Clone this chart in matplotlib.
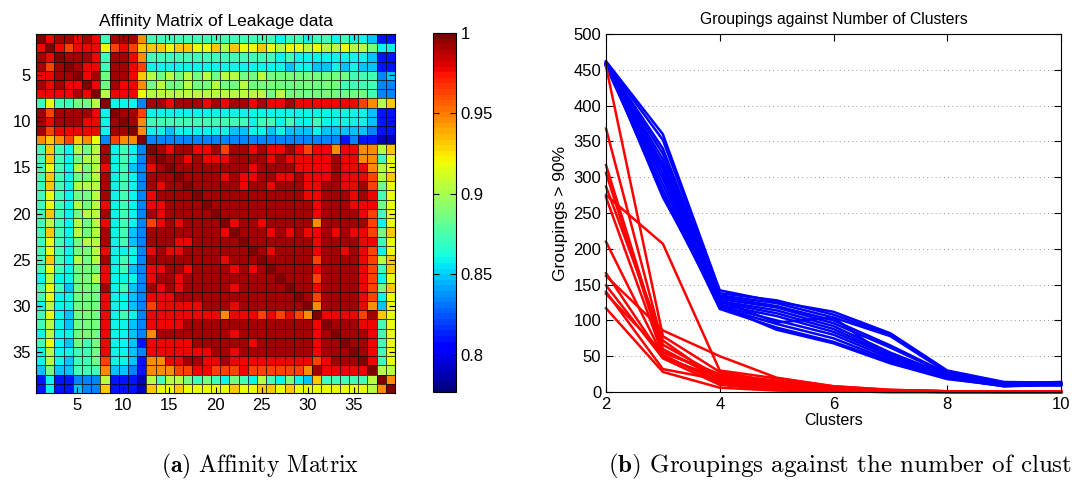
import numpy as np
import matplotlib.pyplot as plt

plt.rcParams['font.family'] = ['Liberation Sans', 'DejaVu Sans']
plt.rcParams['mathtext.fontset'] = 'cm'

# colour level codes used in the affinity table -> affinity value
level_codes = "dbalc0123456789"
level_values = [0.788, 0.81, 0.833, 0.847, 0.859, 0.873, 0.888, 0.904,
                0.919, 0.932, 0.946, 0.962, 0.977, 0.992, 1.0]

# upper triangle of the affinity matrix, row i starts at column i
affinity_rows = [
    "97887870888500000000" "000000c00c00c0cclbb",
    "9767773676444344334" "24334323323223221cc",
    "988870887500000000" "000000c0cccccccclbb",
    "987708876cccccccc" "ccccccclccllclcllbb",
    "9781887421212121" "22112111111111000al",
    "971877512112112" "11211111111110000aa",
    "92777322222222" "22222121111111110aa",
    "9ccca88788878" "7887877877777776524",
    "9886cccccccc" "cccccccccccccccclbb",
    "98500000000" "000c00c0cc0ccccclbb",
    "95cclccccc" "cllcclclllclllllabb",
    "9aaaaaaaa" "aaaaaaaaaaaaababbdd",
    "98788778" "6887877876775775524",
    "9887877" "7888878777778775503",
    "988888" "8887888877778777523",
    "98888" "7877887787778777624",
    "9888" "8878878887788778613",
    "988" "8888888887788878703",
    "98" "8888888888788877713",
    "9" "8888888888788887603",
    "97887888885888886c3",
    "988878787787877614",
    "98888888788887703",
    "98788887887876c3",
    "988888688887624",
    "98888788887604",
    "98886888876c3",
    "988788887614",
    "986888876c3",
    "95888875l3",
    "977776843",
    "98887703",
    "9888703",
    "988703",
    "98703",
    "9703",
    "922",
    "95",
    "9",
]

clusters = [2, 3, 4, 5, 6, 7, 8, 9, 10]
blue_runs = [
    [462, 360, 142, 126, 112, 82, 30, 14, 13],
    [460, 352, 138, 128, 108, 80, 28, 13, 12],
    [459, 340, 135, 124, 104, 78, 27, 12, 14],
    [458, 333, 133, 120, 100, 65, 26, 12, 11],
    [457, 325, 130, 118, 96, 62, 25, 11, 10],
    [456, 318, 127, 114, 92, 55, 24, 10, 12],
    [455, 312, 125, 110, 88, 52, 23, 10, 9],
    [458, 305, 122, 106, 84, 50, 22, 9, 11],
    [457, 298, 120, 100, 80, 47, 21, 9, 10],
    [456, 290, 118, 95, 75, 44, 20, 8, 12],
    [455, 282, 116, 90, 70, 42, 19, 8, 10],
    [459, 275, 120, 87, 68, 40, 18, 9, 11],
    [461, 272, 128, 97, 104, 46, 20, 10, 13],
]
red_runs = [
    [455, 78, 28, 14, 6, 2, 1, 0, 0],
    [368, 66, 22, 11, 4, 2, 1, 0, 0],
    [317, 60, 18, 9, 3, 1, 0, 0, 0],
    [306, 56, 24, 16, 7, 2, 1, 0, 0],
    [287, 72, 16, 6, 2, 1, 0, 0, 0],
    [275, 207, 30, 19, 8, 3, 1, 0, 0],
    [272, 52, 13, 4, 1, 0, 0, 0, 0],
    [210, 50, 15, 10, 4, 1, 0, 0, 0],
    [166, 48, 20, 12, 5, 2, 0, 0, 0],
    [162, 86, 50, 20, 8, 3, 1, 0, 0],
    [149, 47, 10, 3, 1, 0, 0, 0, 0],
    [140, 32, 17, 7, 2, 1, 0, 0, 0],
    [137, 55, 25, 14, 5, 2, 1, 0, 0],
    [117, 28, 6, 2, 1, 0, 0, 0, 0],
]

# build the symmetric matrix
n = len(affinity_rows)
A = np.zeros((n, n))
for i, row in enumerate(affinity_rows):
    for k, ch in enumerate(row):
        v = level_values[level_codes.index(ch)]
        A[i, i + k] = v
        A[i + k, i] = v

W, H = 1074, 491
fig = plt.figure(figsize=(W / 100, H / 100), dpi=100)

# affinity matrix
ax1 = fig.add_axes([36 / W, 1 - 393 / H, 359 / W, 359 / H])
edges = np.arange(0.5, n + 1)
mesh = ax1.pcolormesh(edges, edges, A, cmap=plt.get_cmap('jet', 64),
                      vmin=0.777, vmax=1.0,
                      edgecolors=(0, 0, 0, 0.7), linewidth=0.7)
ax1.set_xlim(0.5, n + 0.5)
ax1.set_ylim(n + 0.5, 0.5)
ax1.set_xticks(range(5, 40, 5))
ax1.set_yticks(range(5, 40, 5))
ax1.tick_params(labelsize=12, direction='in', length=4, top=True, right=True)
ax1.set_title('Affinity Matrix of Leakage data', fontsize=12.5, pad=6)

cax = fig.add_axes([433 / W, 1 - 392 / H, 23 / W, 359 / H])
cb = fig.colorbar(mesh, cax=cax, ticks=[0.8, 0.85, 0.9, 0.95, 1.0])
cb.ax.set_yticklabels(['0.8', '0.85', '0.9', '0.95', '1'])
cax.tick_params(labelsize=12, direction='in', left=True, right=True, length=4)
cb.outline.set_linewidth(0.8)

# groupings plot
ax2 = fig.add_axes([606 / W, 1 - 392 / H, 455 / W, 358 / H])
for run in blue_runs:
    ax2.plot(clusters, run, color='#0000ff', lw=1.8, clip_on=False)
for run in red_runs:
    ax2.plot(clusters, run, color='#ff0000', lw=1.8, clip_on=False)
ax2.set_xlim(2, 10)
ax2.set_ylim(0, 500)
ax2.set_xticks([2, 4, 6, 8, 10])
ax2.set_yticks(range(0, 501, 50))
ax2.yaxis.grid(True, linestyle=(0, (1, 4)), color='0.45', lw=0.6)
ax2.set_axisbelow(True)
ax2.tick_params(labelsize=12, direction='in', top=True, right=True, length=5)
ax2.set_xlabel('Clusters', fontsize=11.5, labelpad=1)
ax2.set_ylabel('Groupings > 90%', fontsize=12.5)
ax2.set_title('Groupings against Number of Clusters', fontsize=11.3, pad=7)

# sub-figure captions
fig.text(260 / W, 1 - 466 / H, r'$\mathbf{(a)}$ Affinity Matrix',
         family='cmr10', fontsize=17, ha='center', va='center')
fig.text(608 / W, 1 - 466 / H,
         r'$\mathbf{(b)}$ Groupings against the number of clust',
         family='cmr10', fontsize=18, ha='left', va='center')

fig.savefig('out.png', dpi=100)
